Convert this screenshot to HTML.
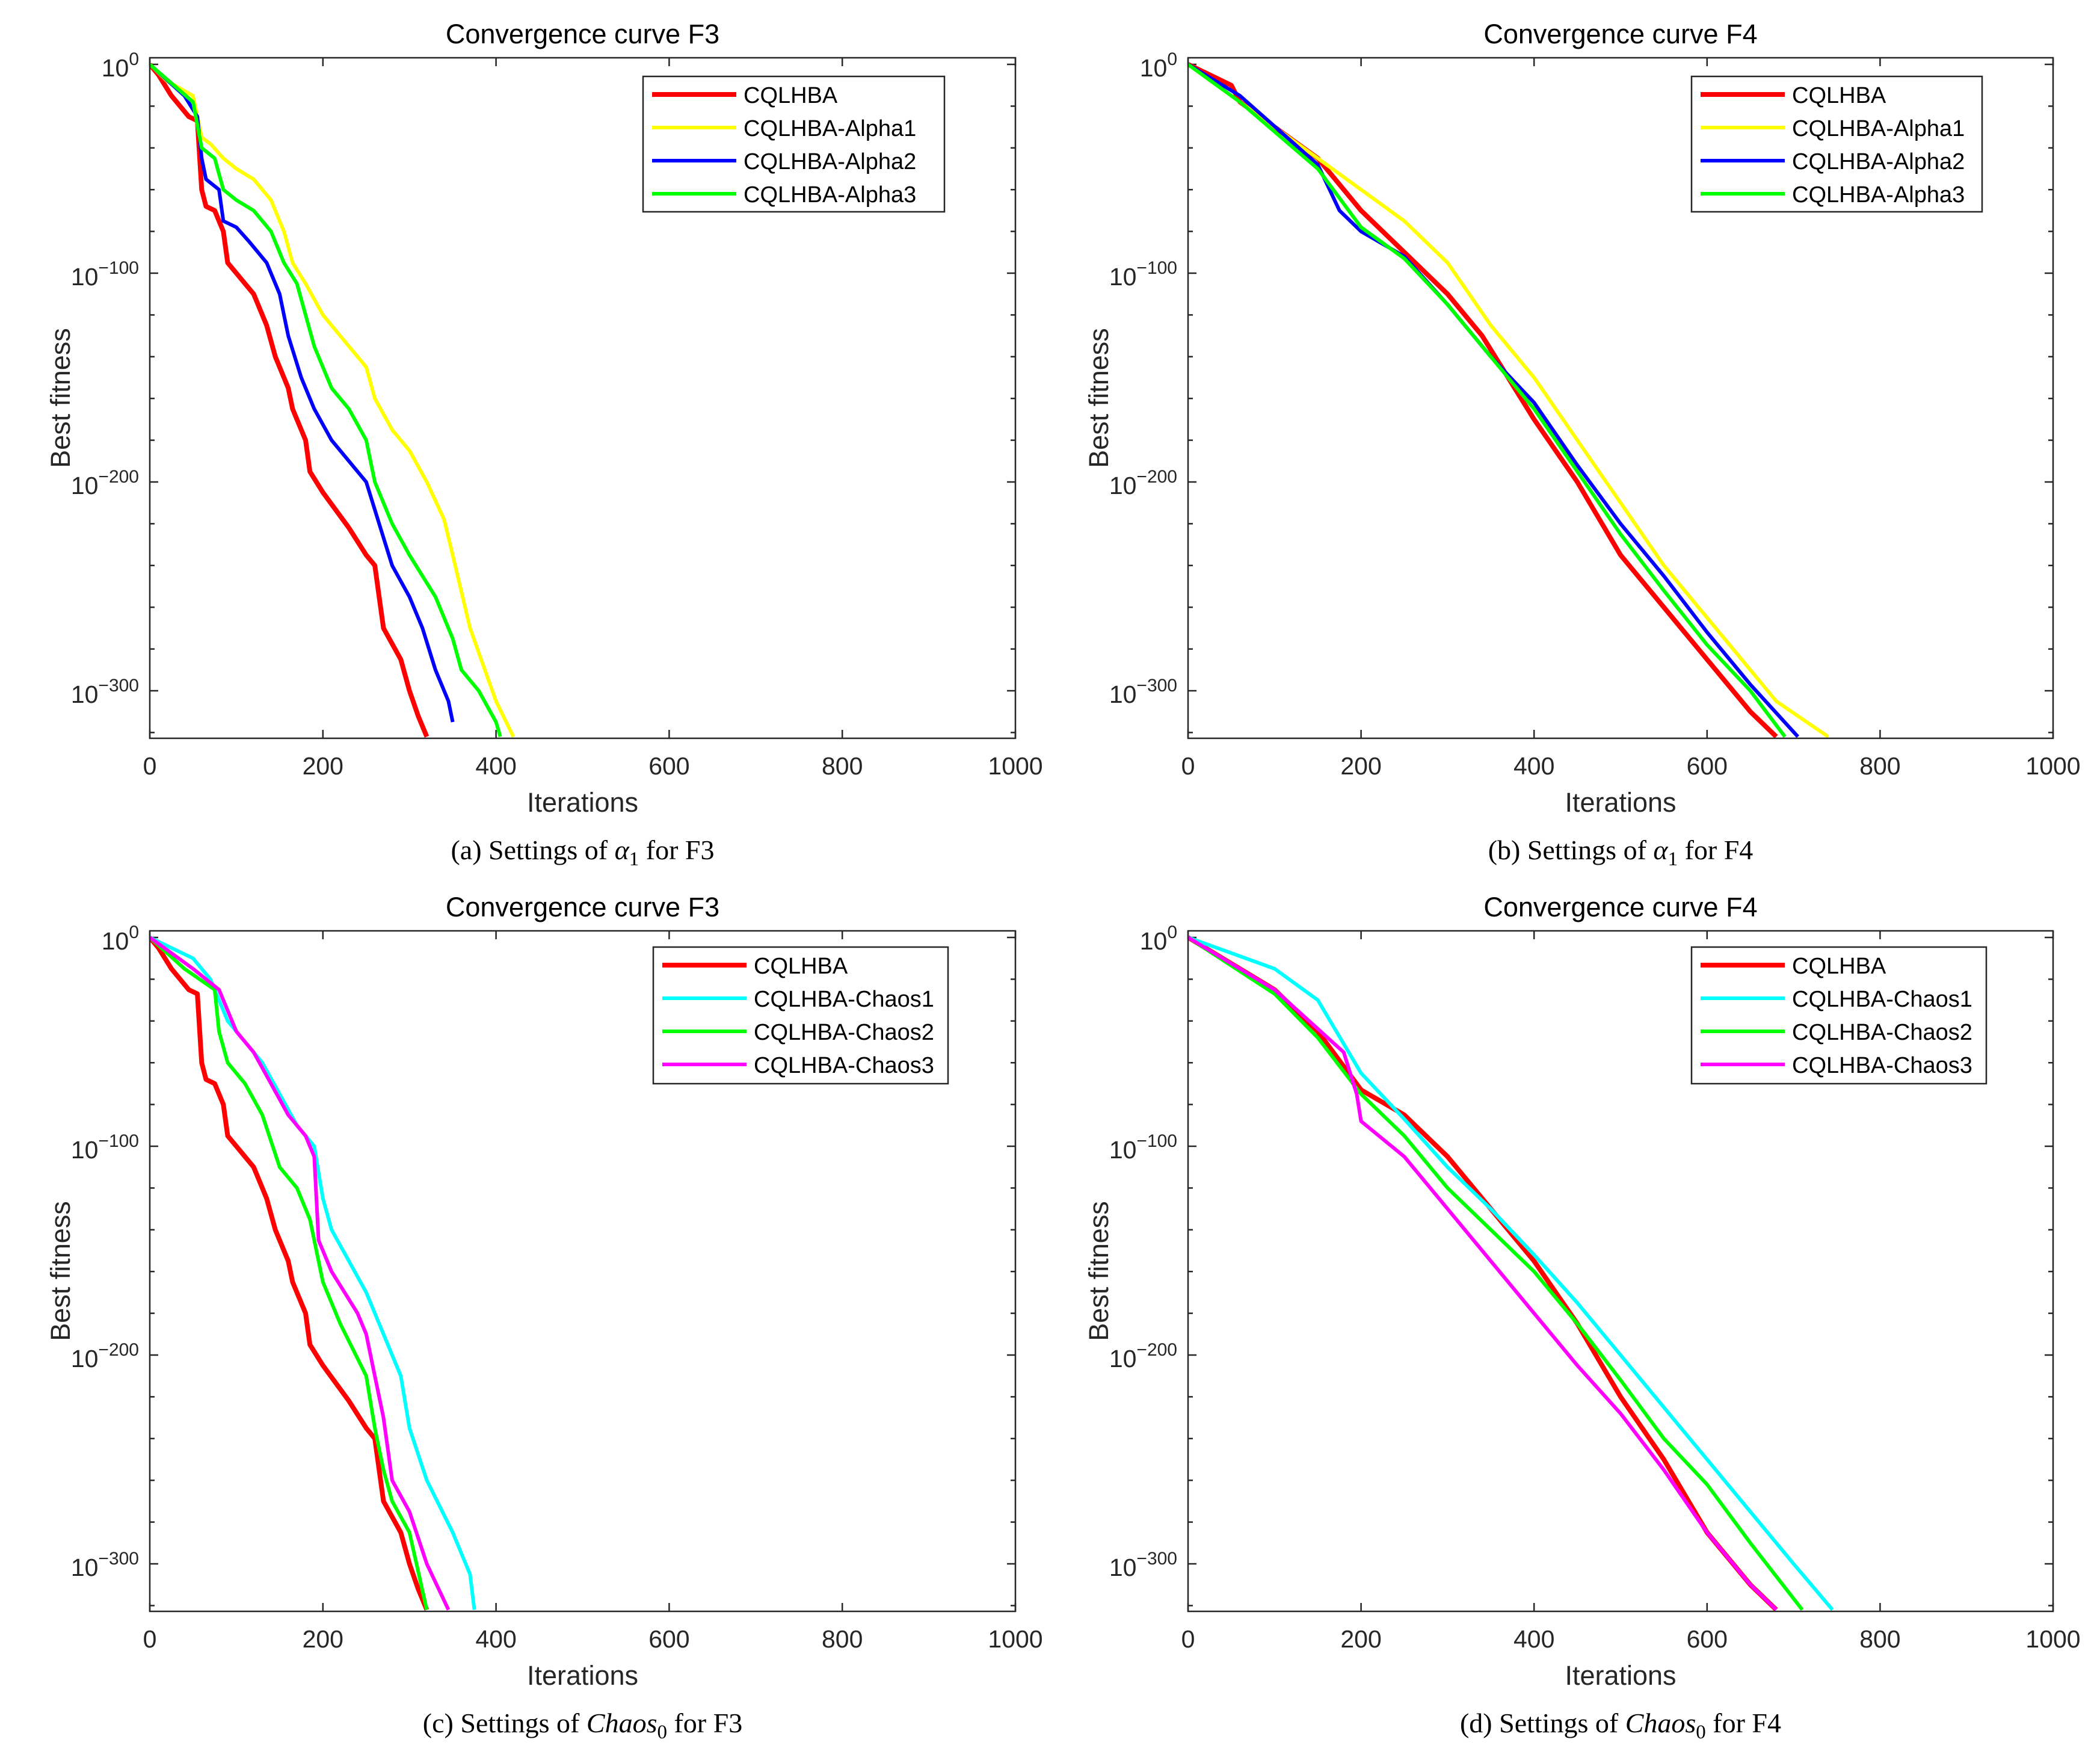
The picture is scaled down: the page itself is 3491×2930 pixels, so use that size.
<!DOCTYPE html>
<html><head><meta charset="utf-8"><style>
html,body{margin:0;padding:0;background:#fff;}
svg{display:block;}
</style></head><body>
<svg id="fig" width="3491" height="2930" viewBox="0 0 3491 2930" xmlns="http://www.w3.org/2000/svg"></svg>
<script>
const xTicks=[0,200,400,600,800,1000];
const yTicks=[0,-100,-200,-300];
const titles=["Convergence curve F3","Convergence curve F4","Convergence curve F3","Convergence curve F4"];
const captionsPre=["(a) Settings of ","(b) Settings of ","(c) Settings of ","(d) Settings of "];
const captionsSym=["α","α","Chaos","Chaos"];
const captionsPost=[" for F3"," for F4"," for F3"," for F4"];
const namesA=["CQLHBA","CQLHBA-Alpha1","CQLHBA-Alpha2","CQLHBA-Alpha3"];
const namesC=["CQLHBA","CQLHBA-Chaos1","CQLHBA-Chaos2","CQLHBA-Chaos3"];
const colorsA=["#ff0000","#ffff00","#0000ff","#00ff00"];
const colorsC=["#ff0000","#00ffff","#00ff00","#ff00ff"];
// iterations / log10(best fitness)
const aRedX=[0,10,25,45,55,60,65,75,85,90,100,120,135,145,160,165,180,185,200,230,250,260,265,270,290,300,310,320];
const aRedY=[0,-5,-15,-25,-27,-60,-68,-70,-80,-95,-100,-110,-125,-140,-155,-165,-180,-195,-205,-222,-235,-240,-255,-270,-285,-300,-312,-322];
const aYelX=[0,20,50,55,60,70,85,100,120,140,155,165,180,200,230,250,260,280,300,320,340,350,370,400,420];
const aYelY=[0,-8,-15,-25,-35,-38,-45,-50,-55,-65,-80,-95,-105,-120,-135,-145,-160,-175,-185,-200,-218,-235,-270,-305,-322];
const aBluX=[0,40,55,60,65,80,85,100,115,135,150,160,175,190,210,230,250,265,280,300,315,330,345,350];
const aBluY=[0,-15,-25,-45,-55,-60,-75,-78,-85,-95,-110,-130,-150,-165,-180,-190,-200,-220,-240,-255,-270,-290,-305,-315];
const aGrnX=[0,50,60,75,85,100,120,140,155,170,180,190,210,230,250,260,280,300,330,350,360,380,400,405];
const aGrnY=[0,-18,-40,-45,-60,-65,-70,-80,-95,-105,-120,-135,-155,-165,-180,-200,-220,-235,-255,-275,-290,-300,-315,-322];
const bRedX=[0,50,60,100,150,200,250,300,340,400,450,500,550,600,650,680];
const bRedY=[0,-10,-18,-30,-45,-70,-90,-110,-130,-170,-200,-235,-260,-285,-310,-322];
const bYelX=[0,60,150,200,250,300,350,400,450,500,550,600,650,680,740];
const bYelY=[0,-18,-45,-60,-75,-95,-125,-150,-180,-210,-240,-265,-290,-305,-322];
const bBluX=[0,60,150,175,200,250,300,350,400,450,500,550,600,650,705];
const bBluY=[0,-15,-48,-70,-80,-92,-115,-140,-162,-192,-220,-245,-272,-297,-322];
const bGrnX=[0,60,150,200,250,300,350,400,450,500,550,600,650,690];
const bGrnY=[0,-18,-50,-78,-93,-115,-140,-165,-195,-225,-252,-278,-300,-322];
const cCyaX=[0,50,70,90,110,130,150,170,190,200,210,230,250,270,290,300,320,350,370,375];
const cCyaY=[0,-10,-20,-40,-50,-60,-75,-90,-100,-125,-140,-155,-170,-190,-210,-235,-260,-285,-305,-322];
const cGrnX=[0,40,75,80,90,110,130,150,170,185,200,220,250,260,270,280,300,320];
const cGrnY=[0,-15,-25,-45,-60,-70,-85,-110,-120,-135,-165,-185,-210,-235,-255,-270,-285,-322];
const cMagX=[0,50,80,100,120,140,160,180,190,195,210,240,250,260,270,280,300,320,345];
const cMagY=[0,-15,-25,-45,-55,-70,-85,-95,-105,-145,-160,-180,-190,-210,-230,-260,-275,-300,-322];
const dRedX=[0,100,150,200,250,300,350,400,450,500,550,600,650,680];
const dRedY=[0,-25,-45,-73,-85,-105,-130,-155,-185,-220,-250,-285,-310,-322];
const dCyaX=[0,100,150,200,250,300,350,400,450,500,550,600,650,700,745];
const dCyaY=[0,-15,-30,-65,-87,-110,-130,-152,-175,-200,-225,-250,-275,-300,-322];
const dGrnX=[0,100,150,200,250,300,350,400,450,500,550,600,650,710];
const dGrnY=[0,-27,-48,-75,-95,-120,-140,-160,-185,-212,-240,-262,-290,-322];
const dMagX=[0,100,180,195,200,250,300,350,400,450,500,550,600,650,680];
const dMagY=[0,-25,-55,-75,-88,-105,-130,-155,-180,-205,-228,-255,-285,-310,-322];

const NS="http://www.w3.org/2000/svg";
const svg=document.getElementById('fig');
function mk(tag,attrs,parent){const e=document.createElementNS(NS,tag);for(const k in attrs)e.setAttribute(k,attrs[k]);(parent||svg).appendChild(e);return e;}

const panels=[
 {L:249,R:1688,T:96,B:1227,z:107,series:[[aRedX,aRedY],[aYelX,aYelY],[aBluX,aBluY],[aGrnX,aGrnY]],names:namesA,colors:colorsA,leg:[1069,127,501,225],cap:1428,sub:"1"},
 {L:1975,R:3413,T:96,B:1227,z:107,series:[[bRedX,bRedY],[bYelX,bYelY],[bBluX,bBluY],[bGrnX,bGrnY]],names:namesA,colors:colorsA,leg:[2812,127,483,225],cap:1428,sub:"1"},
 {L:249,R:1688,T:1547,B:2678,z:1558,series:[[aRedX,aRedY],[cCyaX,cCyaY],[cGrnX,cGrnY],[cMagX,cMagY]],names:namesC,colors:colorsC,leg:[1086,1574,490,227],cap:2879,sub:"0"},
 {L:1975,R:3413,T:1547,B:2678,z:1558,series:[[dRedX,dRedY],[dCyaX,dCyaY],[dGrnX,dGrnY],[dMagX,dMagY]],names:namesC,colors:colorsC,leg:[2812,1574,490,227],cap:2879,sub:"0"}
];
const perDec=347/100;
panels.forEach((p,i)=>{
 const g=mk('g',{});
 
 
 const xs=v=>p.L+(p.R-p.L)*v/1000;
 const ys=v=>p.z-v*perDec;
 const clipId='clip'+i;
 const cp=mk('clipPath',{id:clipId},g);mk('rect',{x:p.L,y:p.T,width:p.R-p.L,height:p.B-p.T},cp);
 const tk=mk('g',{stroke:'#262626','stroke-width':2.5},g);
 
 
 xTicks.forEach(v=>{const x=xs(v);mk('line',{x1:x,y1:p.B,x2:x,y2:p.B-14},tk);mk('line',{x1:x,y1:p.T,x2:x,y2:p.T+14},tk);});
 for(let d=0;d>=-320;d-=20){const y=ys(d);if(y<p.T||y>p.B)continue;const len=(d%100===0)?14:8;mk('line',{x1:p.L,y1:y,x2:p.L+len,y2:y},tk);mk('line',{x1:p.R,y1:y,x2:p.R-len,y2:y},tk);}
 p.series.forEach((s,j)=>{
  const pts=s[0].map((x,k)=>xs(x).toFixed(1)+','+ys(s[1][k]).toFixed(1)).join(' ');
  const pl=mk('polyline',{points:pts,fill:'none',stroke:p.colors[j],'stroke-width':j===0?8:6,'stroke-linejoin':'round','clip-path':'url(#'+clipId+')'},g);
  
  
 });
 const bx=mk('rect',{x:p.L,y:p.T,width:p.R-p.L,height:p.B-p.T,fill:'none',stroke:'#262626','stroke-width':2.5},g);
 
 
 xTicks.forEach(v=>{const t=mk('text',{x:xs(v),y:p.B+60,'font-family':'Liberation Sans, sans-serif','font-size':41,fill:'#262626','text-anchor':'middle'},g);t.textContent=v;
  
  });
 yTicks.forEach(v=>{const y=ys(v);const t=mk('text',{x:p.L-18,y:y+20,'font-family':'Liberation Sans, sans-serif','font-size':41,fill:'#262626','text-anchor':'end'},g);
  
  
  const a=mk('tspan',{},t);a.textContent='10';const b=mk('tspan',{'font-size':30,dy:-19});b.textContent=(v===0?'0':'\u2212'+(-v));t.appendChild(b);
 });
 const xt=mk('text',{x:(p.L+p.R)/2,y:p.B+122,'font-family':'Liberation Sans, sans-serif','font-size':45,fill:'#262626','text-anchor':'middle'},g);xt.textContent='Iterations';
 
 
 const yt=mk('text',{x:0,y:0,transform:`translate(${p.L-133},${(p.T+p.B)/2}) rotate(-90)`,'font-family':'Liberation Sans, sans-serif','font-size':45,fill:'#262626','text-anchor':'middle'},g);yt.textContent='Best fitness';
 
 
 const tt=mk('text',{x:(p.L+p.R)/2,y:p.T-24,'font-family':'Liberation Sans, sans-serif','font-size':45,fill:'#000','text-anchor':'middle'},g);tt.textContent=titles[i];
 
 
 const [lx,ly,lw,lh]=p.leg;
 const lg=mk('g',{},g);
 
 
 mk('rect',{x:lx,y:ly,width:lw,height:lh,fill:'#fff',stroke:'#262626','stroke-width':2.5},lg);
 p.names.forEach((n,j)=>{const y=ly+30+j*55;
  mk('line',{x1:lx+15,y1:y,x2:lx+155,y2:y,stroke:p.colors[j],'stroke-width':j===0?8:6},lg);
  const t=mk('text',{x:lx+167,y:y+14,'font-family':'Liberation Sans, sans-serif','font-size':38,fill:'#000'},lg);t.textContent=n;
  
  
 });
 const c=mk('text',{x:(p.L+p.R)/2,y:p.cap,'font-family':'Liberation Serif, serif','font-size':46,fill:'#000','text-anchor':'middle'},g);
 
 
 const c1=mk('tspan',{},c);c1.textContent=captionsPre[i];
 const c2=mk('tspan',{'font-style':'italic'},c);c2.textContent=captionsSym[i];
 const c3=mk('tspan',{'font-size':33,dy:10},c);c3.textContent=p.sub;
 const c4=mk('tspan',{dy:-10},c);c4.textContent=captionsPost[i];
});
</script>
</body></html>
